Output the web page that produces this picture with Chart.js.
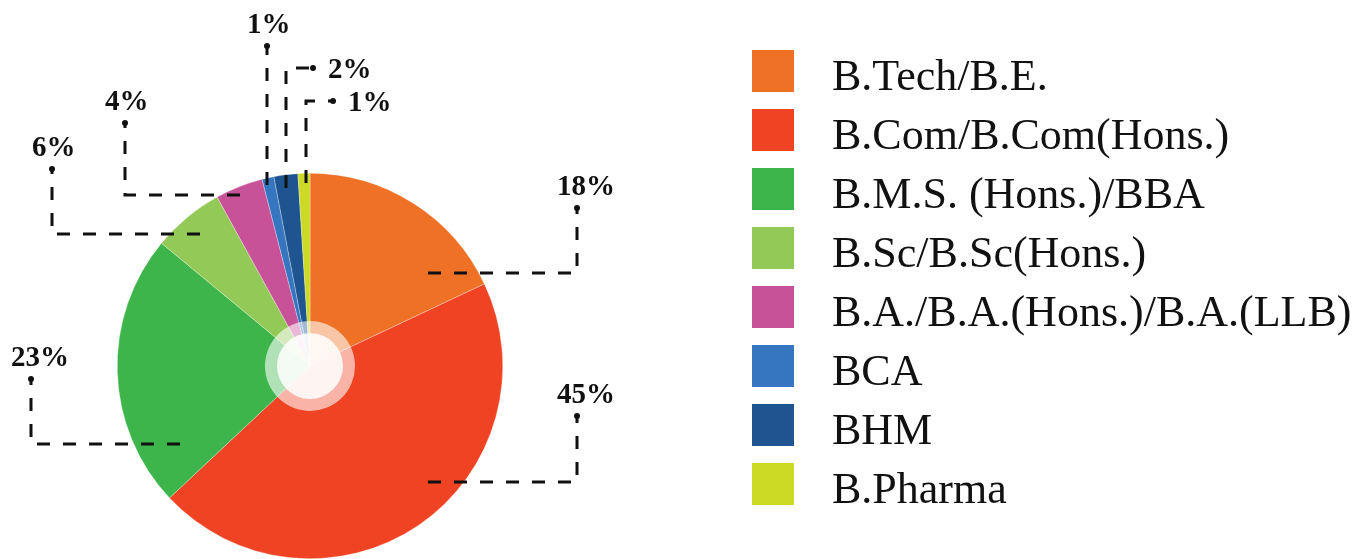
<!DOCTYPE html>
<html>
<head>
<meta charset="utf-8">
<script src="https://cdn.jsdelivr.net/npm/chart.js@4/dist/chart.umd.min.js"></script>
<style>
  html, body { margin: 0; padding: 0; background: #ffffff; }
  #wrap { width: 1369px; height: 559px; position: relative; }
</style>
</head>
<body>
<div id="wrap"><canvas id="c" width="1369" height="559"></canvas></div>
<script>
// ---- data ----
const categories = [
  "B.Tech/B.E.",
  "B.Com/B.Com(Hons.)",
  "B.M.S. (Hons.)/BBA",
  "B.Sc/B.Sc(Hons.)",
  "B.A./B.A.(Hons.)/B.A.(LLB)",
  "BCA",
  "BHM",
  "B.Pharma"
];
const shares = [18, 45, 23, 6, 4, 1, 2, 1];
const shareLabels = ["18%", "45%", "23%", "6%", "4%", "1%", "2%", "1%"];
const sliceColors = ["#EE7125", "#F04324", "#3DB54B", "#93C957", "#C85297", "#3675BF", "#1E5490", "#CCD925"];

// ---- layout of leader lines (offsets from pie centre, px) ----
// path: anchor -> elbow -> dot; text placed relative to the dot
const leaderLayout = [
  { a: [118, -93], e: [267, -93], d: [267, -158], side: "top" },
  { a: [118, 116], e: [267, 116], d: [267, 50], side: "top" },
  { a: [-130, 78], e: [-279, 78], d: [-279, 13], side: "top" },
  { a: [-110, -132], e: [-258, -132], d: [-258, -197], side: "top" },
  { a: [-70, -171], e: [-185, -171], d: [-185, -243], side: "top" },
  { a: [-43, -181], e: [-43, -250], d: [-43, -320], side: "top" },
  { a: [-24, -178], e: [-24, -298], d: [3, -298], side: "right" },
  { a: [-4, -183], e: [-4, -265], d: [23, -265], side: "right" }
];

const overlayPlugin = {
  id: "overlay",
  afterDatasetsDraw(chart) {
    const ctx = chart.ctx;
    const arc = chart.getDatasetMeta(0).data[0];
    const cx = arc.x, cy = arc.y;

    // centre translucent circles
    ctx.save();
    ctx.fillStyle = "rgba(255,255,255,0.6)";
    ctx.beginPath(); ctx.arc(cx, cy, 45, 0, Math.PI * 2); ctx.fill();
    ctx.fillStyle = "rgba(255,255,255,0.85)";
    ctx.beginPath(); ctx.arc(cx, cy, 33, 0, Math.PI * 2); ctx.fill();
    ctx.restore();

    // leader lines + labels
    ctx.save();
    ctx.strokeStyle = "#111111";
    ctx.fillStyle = "#111111";
    ctx.lineWidth = 3;
    ctx.font = "bold 29px 'Liberation Serif', 'Times New Roman', serif";
    chart.data.datasets[0].data.forEach((v, i) => {
      const L = leaderLayout[i];
      if (!L) return;
      const ax = cx + L.a[0], ay = cy + L.a[1];
      const ex = cx + L.e[0], ey = cy + L.e[1];
      const dx = cx + L.d[0], dy = cy + L.d[1];
      ctx.setLineDash([13, 13]);
      ctx.beginPath();
      ctx.moveTo(ax, ay);
      ctx.lineTo(ex, ey);
      ctx.lineTo(dx, dy);
      ctx.stroke();
      ctx.setLineDash([]);
      ctx.beginPath(); ctx.arc(dx, dy, 3, 0, Math.PI * 2); ctx.fill();
      const txt = shareLabels[i];
      ctx.textAlign = "left";
      ctx.textBaseline = "alphabetic";
      if (L.side === "top") {
        ctx.fillText(txt, dx - 20, dy - 13);
      } else {
        ctx.fillText(txt, dx + 15, dy + 10);
      }
    });
    ctx.restore();
  },
  afterDraw(chart) {
    const ctx = chart.ctx;
    ctx.save();
    ctx.font = "44px 'Liberation Serif', 'Times New Roman', serif";
    ctx.textAlign = "left";
    ctx.textBaseline = "alphabetic";
    chart.data.labels.forEach((lab, i) => {
      const top = 50 + i * 59;
      ctx.fillStyle = chart.data.datasets[0].backgroundColor[i];
      ctx.fillRect(752, top, 42, 42);
      ctx.fillStyle = "#111111";
      ctx.fillText(lab, 832, top + 40);
    });
    ctx.restore();
  }
};

new Chart(document.getElementById("c"), {
  type: "pie",
  data: {
    labels: categories,
    datasets: [{
      data: shares,
      backgroundColor: sliceColors,
      borderColor: "rgba(255,255,255,0.6)",
      borderWidth: 0.5
    }]
  },
  options: {
    responsive: false,
    animation: false,
    layout: { padding: { left: 117, right: 866, top: 173, bottom: 0 } },
    plugins: {
      legend: { display: false },
      tooltip: { enabled: false }
    }
  },
  plugins: [overlayPlugin]
});
</script>
</body>
</html>
